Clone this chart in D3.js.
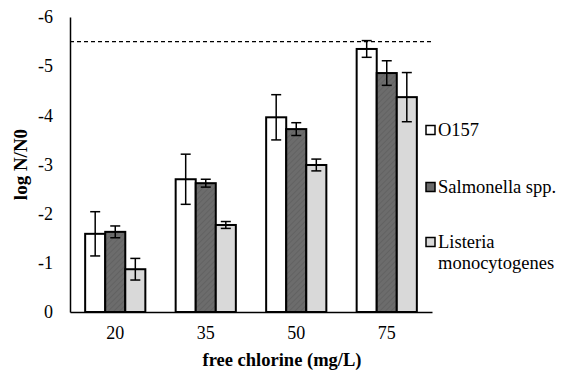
<!DOCTYPE html>
<html>
<head>
<meta charset="utf-8">
<script src="https://cdn.jsdelivr.net/npm/d3@7"></script>
<style>
  html, body { margin: 0; padding: 0; background: #fff; }
  svg { display: block; }
  svg text { font-family: "Liberation Serif", "Times New Roman", Times, "DejaVu Serif", serif !important; fill: #000; }
</style>
</head>
<body>
<svg id="chart" width="564" height="374"></svg>
<script>
const categories = ["20", "35", "50", "75"];
const seriesNames = ["O157", "Salmonella spp.", "Listeria monocytogenes"];
const o157 = [-1.59, -2.70, -3.96, -5.35];
const o157Err = [0.45, 0.51, 0.46, 0.17];
const salmonella = [-1.63, -2.62, -3.72, -4.86];
const salmonellaErr = [0.12, 0.08, 0.13, 0.25];
const listeria = [-0.87, -1.77, -2.99, -4.37];
const listeriaErr = [0.22, 0.07, 0.12, 0.50];
const yTicks = [0, -1, -2, -3, -4, -5, -6];
const limitValue = -5.5;

const FONT = '"Liberation Serif", "Times New Roman", Times, serif';
const svg = d3.select("#chart");
const margin = { left: 70, right: 132, top: 17, bottom: 62 };
const W = 564, H = 374;

const x0 = d3.scaleBand().domain(categories).range([margin.left, W - margin.right]).paddingInner(0.335).paddingOuter(0.1675);
const x1 = d3.scaleBand().domain(seriesNames).range([0, x0.bandwidth()]);
const y = d3.scaleLinear().domain([0, -6]).range([H - margin.bottom, margin.top]);

const fills = ["#ffffff", "#6a6a6a", "#d9d9d9"];

const defs = svg.append("defs");
const pat = defs.append("pattern").attr("id", "hatch").attr("patternUnits", "userSpaceOnUse")
  .attr("width", 4).attr("height", 4).attr("patternTransform", "rotate(45)");
pat.append("rect").attr("width", 4).attr("height", 4).attr("fill", "#6c6c6c");
pat.append("line").attr("x1", 0).attr("y1", 0).attr("x2", 0).attr("y2", 4).attr("stroke", "#5e5e5e").attr("stroke-width", 1.5);
const fillRefs = ["#ffffff", "url(#hatch)", "#d9d9d9"];

const series = [
  { name: seriesNames[0], vals: o157, err: o157Err },
  { name: seriesNames[1], vals: salmonella, err: salmonellaErr },
  { name: seriesNames[2], vals: listeria, err: listeriaErr }
];

const yAxis = d3.axisLeft(y).tickValues(yTicks).tickSize(0).tickPadding(17).tickFormat(d => String(d));
const gy = svg.append("g").attr("transform", `translate(${margin.left},0)`).call(yAxis);
gy.attr("font-family", FONT).attr("font-size", 18);
gy.select(".domain").attr("stroke", "#000").attr("stroke-width", 1.5);

svg.append("line")
  .attr("x1", margin.left).attr("x2", W - margin.right)
  .attr("y1", y(limitValue)).attr("y2", y(limitValue))
  .attr("stroke", "#000").attr("stroke-width", 1.2).attr("stroke-dasharray", "4,3");

series.forEach((s, si) => {
  const g = svg.append("g");
  g.selectAll("rect").data(categories).join("rect")
    .attr("x", c => x0(c) + x1(s.name))
    .attr("width", x1.bandwidth())
    .attr("y", (c, i) => y(s.vals[i]))
    .attr("height", (c, i) => y(0) - y(s.vals[i]))
    .attr("fill", fillRefs[si])
    .attr("stroke", "#000").attr("stroke-width", 2);
  categories.forEach((c, i) => {
    const cx = x0(c) + x1(s.name) + x1.bandwidth() / 2;
    const top = y(s.vals[i] - s.err[i]);
    const bot = y(s.vals[i] + s.err[i]);
    g.append("line").attr("x1", cx).attr("x2", cx).attr("y1", top).attr("y2", bot).attr("stroke", "#000").attr("stroke-width", 1.5);
    g.append("line").attr("x1", cx - 5).attr("x2", cx + 5).attr("y1", top).attr("y2", top).attr("stroke", "#000").attr("stroke-width", 1.5);
    g.append("line").attr("x1", cx - 5).attr("x2", cx + 5).attr("y1", bot).attr("y2", bot).attr("stroke", "#000").attr("stroke-width", 1.5);
  });
});

const xAxis = d3.axisBottom(x0).tickSize(0).tickPadding(14);
const gx = svg.append("g").attr("transform", `translate(0,${y(0)})`).call(xAxis);
gx.attr("font-family", FONT).attr("font-size", 18);
gx.select(".domain").attr("stroke", "#000").attr("stroke-width", 1.5);

svg.append("text")
  .attr("x", W / 2).attr("y", 366)
  .attr("text-anchor", "middle").attr("font-family", FONT).attr("font-size", 18.5).attr("font-weight", "bold")
  .text("free chlorine (mg/L)");
svg.append("text")
  .attr("transform", `translate(27,${(margin.top + H - margin.bottom) / 2}) rotate(-90)`)
  .attr("text-anchor", "middle").attr("font-family", FONT).attr("font-size", 19).attr("font-weight", "bold")
  .text("log N/N0");

const legendY = [130, 187, 242];
const leg = svg.append("g").attr("font-family", FONT).attr("font-size", 18.5);
series.forEach((s, si) => {
  leg.append("rect").attr("x", 426).attr("y", legendY[si] - 4.5).attr("width", 9).attr("height", 9)
    .attr("fill", fills[si]).attr("stroke", "#000").attr("stroke-width", 1.5);
});
leg.append("text").attr("x", 438).attr("y", legendY[0] + 6).text("O157");
leg.append("text").attr("x", 438).attr("y", legendY[1] + 6).text("Salmonella spp.");
const lt = leg.append("text").attr("x", 438).attr("y", legendY[2] + 6);
lt.append("tspan").attr("x", 438).text("Listeria");
lt.append("tspan").attr("x", 438).attr("dy", 21).text("monocytogenes");
</script>
</body>
</html>
